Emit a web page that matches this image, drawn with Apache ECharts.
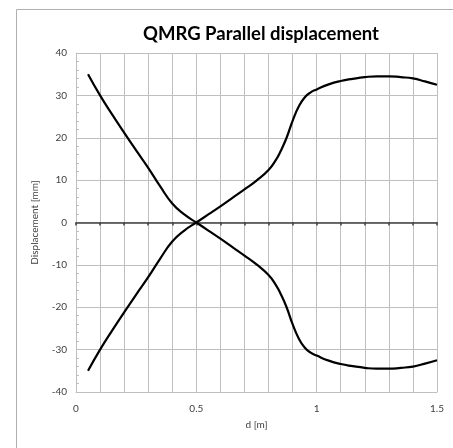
<!DOCTYPE html>
<html>
<head>
<meta charset="utf-8">
<script src="https://cdn.jsdelivr.net/npm/echarts@6/dist/echarts.min.js"></script>
<style>
  html, body { margin: 0; padding: 0; background: #fff; }
  #chart { width: 453px; height: 448px; }
</style>
</head>
<body>
<div id="chart"></div>
<script>
// Distance along the track [m]
const distance = [0.05, 0.10, 0.15, 0.20, 0.25, 0.30, 0.35, 0.40, 0.45, 0.50,
                  0.55, 0.60, 0.65, 0.70, 0.75, 0.80, 0.83, 0.85, 0.875, 0.90,
                  0.925, 0.95, 0.975, 1.00, 1.05, 1.10, 1.15, 1.20, 1.25, 1.30,
                  1.35, 1.40, 1.45, 1.50];

// Parallel displacement [mm], branch falling from +35
const displacementA = [35.0, 30.0, 25.5, 21.2, 17.0, 12.9, 8.5, 4.5, 1.9, 0.0,
                       -1.9, -3.8, -5.8, -7.8, -9.9, -12.4, -14.7, -16.8, -20.0, -24.0,
                       -27.3, -29.5, -30.7, -31.4, -32.6, -33.4, -33.9, -34.3, -34.5, -34.5,
                       -34.3, -34.0, -33.3, -32.5];

// Parallel displacement [mm], branch rising from -35
const displacementB = [-35.0, -30.0, -25.5, -21.2, -17.0, -12.9, -8.5, -4.5, -1.9, 0.0,
                       1.9, 3.8, 5.8, 7.8, 9.9, 12.4, 14.7, 16.8, 20.0, 24.0,
                       27.3, 29.5, 30.7, 31.4, 32.6, 33.4, 33.9, 34.3, 34.5, 34.5,
                       34.3, 34.0, 33.3, 32.5];

const xTickLabels = ['0', '0.5', '1', '1.5'];

const pairs = (xs, ys) => xs.map((x, i) => [x, ys[i]]);
const FONT = 'Lato, "Open Sans", sans-serif';

const chart = echarts.init(document.getElementById('chart'), null, { renderer: 'canvas' });

const baseX = {
  type: 'value', min: 0, max: 1.5, interval: 0.1
};

const curve = data => ({
  type: 'line', xAxisIndex: 0, data,
  smooth: 0.5, symbol: 'none',
  lineStyle: { color: '#000', width: 2.2 }
});

chart.setOption({
  animation: false,
  backgroundColor: '#fff',
  title: {
    text: 'QMRG Parallel displacement',
    left: 256, top: 20, textAlign: 'center',
    textStyle: { fontFamily: FONT, fontSize: 18.5, fontWeight: 'bold', color: '#000' }
  },
  graphic: [{
    type: 'rect', left: 14, top: 7, silent: true,
    shape: { width: 470, height: 470 },
    style: { fill: 'none', stroke: '#b0b0b0', lineWidth: 1 }
  }],
  grid: { left: 76, right: 16, top: 53, bottom: 56, containLabel: false },
  xAxis: [
    Object.assign({}, baseX, {
      position: 'bottom',
      axisLine: { onZero: false, lineStyle: { color: '#bfbfbf', width: 1 } },
      axisTick: { show: false },
      splitLine: { show: true, lineStyle: { color: '#bfbfbf', width: 1 } },
      axisLabel: {
        fontFamily: FONT, fontSize: 10, color: '#404040', margin: 12,
        formatter: v => {
          const k = Math.round(v * 2);
          return Math.abs(v * 2 - k) < 1e-6 ? xTickLabels[k] : '';
        }
      },
      name: 'd [m]', nameLocation: 'middle', nameGap: 28,
      nameTextStyle: { fontFamily: FONT, fontSize: 10, color: '#404040' }
    }),
    Object.assign({}, baseX, {
      position: 'bottom',
      axisLine: { onZero: true, lineStyle: { color: '#404040', width: 1.5 } },
      axisTick: { show: true, inside: false, length: 3, lineStyle: { color: '#404040', width: 1.5 } },
      splitLine: { show: false },
      axisLabel: { show: false }
    })
  ],
  yAxis: {
    type: 'value', min: -40, max: 40, interval: 10,
    axisLine: { show: true, lineStyle: { color: '#bfbfbf' } },
    axisTick: { show: false, inside: true },
    minorTick: { show: true, splitNumber: 5, length: 3, lineStyle: { color: '#bfbfbf' } },
    splitLine: { show: true, lineStyle: { color: '#bfbfbf', width: 1 } },
    axisLabel: { fontFamily: FONT, fontSize: 10, color: '#404040', margin: 9 },
    name: 'Displacement [mm]', nameLocation: 'middle', nameGap: 36, nameRotate: 90,
    nameTextStyle: { fontFamily: FONT, fontSize: 10, color: '#404040' }
  },
  series: [
    curve(pairs(distance, displacementA)),
    curve(pairs(distance, displacementB))
  ]
});
</script>
</body>
</html>
